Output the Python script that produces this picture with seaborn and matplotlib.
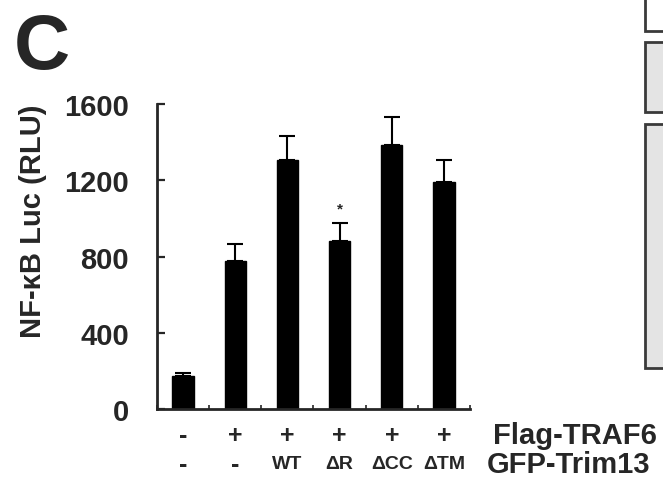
import matplotlib
matplotlib.use("Agg")
import matplotlib.pyplot as plt
import seaborn as sns
import pandas as pd
from matplotlib.patches import Rectangle

# ---- data ----
conditions = ["ctrl", "TRAF6", "WT", "dR", "dCC", "dTM"]
luc_mean = [172, 778, 1308, 883, 1387, 1189]
luc_err = [17, 88, 126, 91, 143, 119]
flag_row = ["-", "+", "+", "+", "+", "+"]
gfp_row = ["-", "-", "WT", "ΔR", "ΔCC", "ΔTM"]
yticks = [0, 400, 800, 1200, 1600]
star_idx = 3

sns.set_style("ticks")
plt.rcParams['font.family'] = ['Liberation Sans', 'DejaVu Sans']
plt.rcParams['font.weight'] = 'bold'

fig = plt.figure(figsize=(6.63, 4.85), dpi=100)
ax = fig.add_axes([0.2368, 0.1546, 0.4721, 0.6289])

df = pd.DataFrame({"cond": conditions, "val": luc_mean})
sns.barplot(data=df, x="cond", y="val", color="black", width=0.41,
            errorbar=None, ax=ax, saturation=1, edgecolor="black")
ax.errorbar(range(len(conditions)), luc_mean,
            yerr=[[0] * len(luc_err), luc_err], fmt="none",
            ecolor="black", elinewidth=1.5, capsize=6, capthick=1.5, zorder=3)

ax.set_xlim(-0.49, 5.49)
ax.set_ylim(0, 1600)
ax.set_yticks(yticks)
ax.set_yticklabels([str(v) for v in yticks], fontsize=21, fontweight="bold")
ax.tick_params(axis="y", direction="in", length=6, width=1.6, pad=20)
ax.set_xticks([i + 0.5 for i in range(-1, len(conditions))])
ax.set_xticklabels([])
ax.tick_params(axis="x", direction="in", length=3, width=1.2)
ax.set_xlabel("")
ax.set_ylabel("NF-κB Luc (RLU)", fontsize=21, fontweight="bold")
ax.yaxis.set_label_coords(-0.35, 0.62)
for s in ["top", "right"]:
    ax.spines[s].set_visible(False)
for s in ["left", "bottom"]:
    ax.spines[s].set_linewidth(2)

# significance star
ax.text(star_idx, luc_mean[star_idx] + luc_err[star_idx] + 40, "*",
        ha="center", va="bottom", fontsize=11, fontweight="bold")

# condition rows
for i, (f, g) in enumerate(zip(flag_row, gfp_row)):
    ax.text(i, -0.085, f, transform=ax.get_xaxis_transform(), ha="center",
            va="center", fontsize=18, fontweight="bold")
    ax.text(i, -0.18, g, transform=ax.get_xaxis_transform(), ha="center",
            va="center", fontsize=14 if len(g) > 1 else 18, fontweight="bold")
fig.text(0.743, 0.1546 - 0.085 * 0.6289, "Flag-TRAF6", ha="left", va="center",
         fontsize=21, fontweight="bold")
fig.text(0.734, 0.1546 - 0.18 * 0.6289, "GFP-Trim13", ha="left", va="center",
         fontsize=21, fontweight="bold")

# panel letter
fig.text(0.02, 0.975, "C", ha="left", va="top", fontsize=56, fontweight="bold")

# partial boxes of neighbouring panel
box_specs = [(0.934, 0.09, "white"), (0.767, 0.144, "#e4e4e4"), (0.239, 0.503, "#e4e4e4")]
for y0, h, fc in box_specs:
    fig.patches.append(Rectangle((0.973, y0), 0.1, h, transform=fig.transFigure,
                                 facecolor=fc, edgecolor="#3a3a3a", linewidth=2))

fig.savefig("out.png", dpi=100, facecolor="white")
